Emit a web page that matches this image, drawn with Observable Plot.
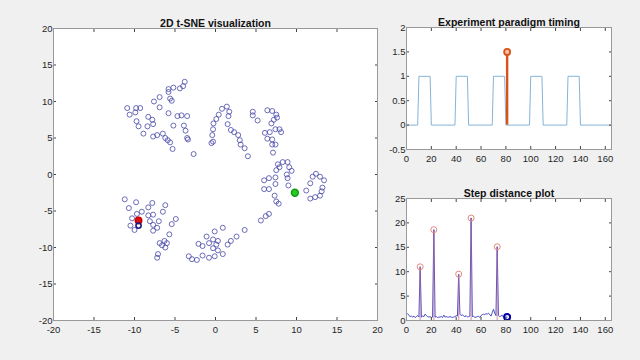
<!DOCTYPE html>
<html><head><meta charset="utf-8">
<script src="https://cdn.jsdelivr.net/npm/d3@7"></script>
<script src="https://cdn.jsdelivr.net/npm/@observablehq/plot@0.6"></script>
<style>
html,body{margin:0;padding:0;background:#f0f0f0;}
#fig{position:relative;width:640px;height:360px;background:#f0f0f0;overflow:hidden;font-family:"Liberation Sans",Arial,sans-serif;}
#fig svg{position:absolute;}
</style></head>
<body><div id="fig"></div>
<script>
// ---- t-SNE embedding ----
const tsneX = [-10.9,-10.6,-9.8,-9.3,-9.9,-9.75,-9.5,-8.9,-8.4,-8.3,-7.8,-7.7,-7.6,-6.9,-6.9,-7.7,-7.2,-6.5,-6.2,-5.9,-5.6,-5.8,-5.8,-5.8,-5.6,-5.4,-5.2,-5.2,-5.3,-4.7,-4.2,-4.4,-4.0,-3.8,-3.5,-3.9,-3.7,-3.5,-3.4,-2.7,
 -0.5,-0.3,-0.4,-0.3,-0.25,0.1,0.4,0.8,1.4,1.7,1.6,1.5,1.9,2.3,2.8,3.0,3.1,3.6,4.0,4.6,4.6,5.2,
 6.4,7.0,7.5,7.6,7.2,6.9,6.1,6.7,7.4,7.9,8.1,6.4,7.0,7.0,7.4,7.1,7.7,8.3,8.9,7.9,7.5,9.1,9.4,8.8,8.9,9.0,6.0,6.6,7.4,7.4,
 12.4,12.0,12.9,13.4,11.7,13.2,6.0,6.6,7.3,7.5,7.8,11.2,11.7,12.3,12.9,13.1,
 6.6,6.2,5.6,3.6,2.6,1.9,1.5,0.9,-0.1,-1.1,-2.1,-1.6,-0.8,-0.3,0.3,0.1,-0.3,0.3,0.9,-0.1,-0.8,-1.6,-2.3,-2.9,-3.3,
 -11.2,-10.7,-9.8,-9.7,-9.1,-10.3,-10.5,-10.0,-8.3,-7.8,-8.3,-7.7,-8.1,-7.7,-7.2,-7.7,-7.0,-6.5,-6.2,-5.4,-4.9,-5.7,-6.3,-6.9,-6.6,-6.0,-6.2,-7.1,-7.2];
const tsneY = [9.1,8.2,9.1,9.1,8.5,7.3,6.6,5.6,6.6,7.9,7.5,6.9,10.0,10.6,9.2,5.2,5.4,5.6,5.0,4.7,4.4,8.4,11.3,11.7,10.4,10.1,11.9,6.7,3.5,8.0,8.1,11.8,12.1,12.7,8.0,6.7,6.0,5.0,4.8,2.8,
 4.3,4.5,5.4,6.2,7.0,7.6,8.2,9.0,9.3,8.6,8.0,6.9,6.1,5.8,5.4,4.7,4.1,3.6,2.5,8.6,8.1,7.4,
 8.8,8.7,8.2,7.8,7.5,7.0,5.7,5.8,6.2,6.2,5.8,4.9,4.8,4.1,4.1,3.0,1.4,1.7,1.7,1.0,0.6,1.0,0.5,0.0,-0.5,-1.5,-0.8,-0.5,-0.4,-1.3,
 0.1,-0.3,-0.3,-0.8,-1.2,-1.8,-2.0,-2.0,-2.9,-3.7,-4.0,-2.2,-3.3,-3.1,-2.9,-2.3,
 -5.4,-5.7,-6.3,-7.6,-8.5,-9.1,-9.6,-7.3,-7.8,-8.5,-9.5,-9.8,-9.4,-8.9,-9.1,-9.6,-10.1,-10.4,-10.9,-11.2,-11.4,-11.1,-11.7,-11.6,-11.2,
 -3.4,-4.6,-3.8,-5.4,-5.1,-6.0,-7.0,-7.6,-4.5,-3.9,-5.6,-5.5,-6.4,-6.9,-7.3,-7.7,-6.4,-5.1,-4.2,-6.8,-6.1,-8.2,-9.1,-9.4,-9.7,-9.4,-10.0,-10.9,-11.4];
const startPoint = [-9.5, -6.3];    // red
const nearPoint = [-9.5, -7.0];     // dark blue
const currentPoint = [9.8, -2.5];   // green
const tsneTicks = [-20,-15,-10,-5,0,5,10,15,20];

// ---- paradigm timing ----
const timingX = [0,9,10,19,20,39,40,49,50,69,70,79,80,99,100,109,110,129,130,139,140,165];
const timingY = [0,0,1,1,0,0,1,1,0,0,1,1,0,0,1,1,0,0,1,1,0,0];
const currentTime = 81;
const stemValue = 1.5;
const timingYTicks = [-0.5,0,0.5,1,1.5,2];

// ---- step distance ----
const stepX = d3.range(1, 82);
const stepDist = [1.4,1.0,0.8,0.9,0.7,0.9,0.6,0.8,1.0,0.7,
 11.0,0.7,0.9,0.8,1.3,1.0,0.8,0.7,0.8,0.6,
 0.7,18.6,0.7,0.8,0.6,0.7,0.7,0.8,0.6,1.1,
 0.7,0.8,0.7,0.7,0.8,0.7,0.6,0.7,0.8,1.0,
 0.9,9.5,1.3,1.0,1.2,0.9,0.8,1.0,0.7,0.8,
 0.9,21.0,0.8,0.9,0.6,0.7,0.8,0.9,0.6,1.0,
 1.2,1.3,1.2,1.4,1.3,1.5,1.2,0.9,1.6,2.3,
 1.5,1.0,15.1,1.0,0.8,0.9,1.1,0.7,0.8,0.7,0.7];
const peakX = [11,22,42,52,73];
const peakY = [11.0,18.6,9.5,21.0,15.1];
const stepYTicks = [0,5,10,15,20,25];
const timeTicks = [0,20,40,60,80,100,120,140,160];

const FONT = '"Liberation Sans", Arial, sans-serif';
const style = {background:"transparent", fontFamily: FONT, fontSize:"9.5px", color:"#262626", overflow:"visible"};
const TS = -3;
const fmt = d => String(d);

function boxAxes(xt, yt) {
  return [
    Plot.axisX(xt, {anchor:"bottom", tickSize:TS, tickPadding:9, stroke:"#444", fill:"#262626", tickFormat: fmt}),
    Plot.axisX(xt, {anchor:"top", tickSize:TS, tickFormat:()=>"", stroke:"#444"}),
    Plot.axisY(yt, {anchor:"left", tickSize:TS, tickPadding:4, stroke:"#444", fill:"#262626", tickFormat: fmt}),
    Plot.axisY(yt, {anchor:"right", tickSize:TS, tickFormat:()=>"", stroke:"#444"})
  ];
}
function title(t) {
  return Plot.text([t], {frameAnchor:"top", dy:-9, text:d=>d, fontWeight:"bold", fontSize:10.5, fill:"#111"});
}

const fig = document.getElementById("fig");

const tsneData = tsneX.map((x,i)=>({x, y: tsneY[i]}));
const p1 = Plot.plot({
  width:390, height:340, marginLeft:53, marginRight:13, marginTop:28, marginBottom:20,
  style,
  x:{domain:[-20,20], label:null, axis:null},
  y:{domain:[-20,20], label:null, axis:null},
  marks:[
    Plot.frame({fill:"white"}),
    Plot.dot(tsneData, {x:"x", y:"y", r:2.5, stroke:"#4848a8", strokeWidth:0.8}),
    Plot.dot([startPoint], {x:d=>d[0], y:d=>d[1], r:3.2, fill:"#e01010", stroke:"#cc0000"}),
    Plot.dot([nearPoint], {x:d=>d[0], y:d=>d[1], r:2.6, stroke:"#1a1a8a", strokeWidth:1.6}),
    Plot.dot([currentPoint], {x:d=>d[0], y:d=>d[1], r:3.4, fill:"#22cc22", stroke:"#119911"}),
    ...boxAxes(tsneTicks, tsneTicks),
    Plot.frame({stroke:"#999"}),
    title("2D t-SNE visualization")
  ]
});
p1.style.left="0px"; p1.style.top="0px";
fig.appendChild(p1);

const timingData = timingX.map((x,i)=>({x, y: timingY[i]}));
const p2 = Plot.plot({
  width:250, height:165, marginLeft:26, marginRight:19, marginTop:27, marginBottom:16,
  style,
  x:{domain:[0,165], label:null, axis:null},
  y:{domain:[-0.5,2], label:null, axis:null},
  marks:[
    Plot.frame({fill:"white"}),
    Plot.line(timingData, {x:"x", y:"y", stroke:"#86b4d8", strokeWidth:1}),
    Plot.ruleX([currentTime], {x:d=>d, y1:0, y2:stemValue, stroke:"#d95319", strokeWidth:2.4}),
    Plot.dot([currentTime], {x:d=>d, y:stemValue, r:3, stroke:"#d95319", strokeWidth:1.8, fill:"#f4c0a8"}),
    ...boxAxes(timeTicks, timingYTicks),
    Plot.frame({stroke:"#999"}),
    title("Experiment paradigm timing")
  ]
});
p2.style.left="380px"; p2.style.top="0px";
fig.appendChild(p2);

const stepData = stepX.map((x,i)=>({x, y: stepDist[i]}));
const peakData = peakX.map((x,i)=>({x, y: peakY[i]}));
const p3 = Plot.plot({
  width:250, height:170, marginLeft:26, marginRight:19, marginTop:28, marginBottom:20,
  style,
  x:{domain:[0,165], label:null, axis:null},
  y:{domain:[0,25], label:null, axis:null},
  marks:[
    Plot.frame({fill:"white"}),
    Plot.line(stepData, {x:"x", y:"y", stroke:"#3a3ac0", strokeWidth:0.9}),
    Plot.ruleX(peakData, {x:"x", y1:0, y2:"y", stroke:"#c07090", strokeWidth:1.3, strokeOpacity:0.6}),
    Plot.dot(peakData, {x:"x", y:"y", r:3, stroke:"#e08a80", strokeWidth:1}),
    Plot.dot([currentTime], {x:d=>d, y:stepDist[stepDist.length-1], r:3, stroke:"#0000aa", strokeWidth:2}),
    ...boxAxes(timeTicks, stepYTicks),
    Plot.frame({stroke:"#999"}),
    title("Step distance plot")
  ]
});
p3.style.left="380px"; p3.style.top="170px";
fig.appendChild(p3);
</script></body></html>
